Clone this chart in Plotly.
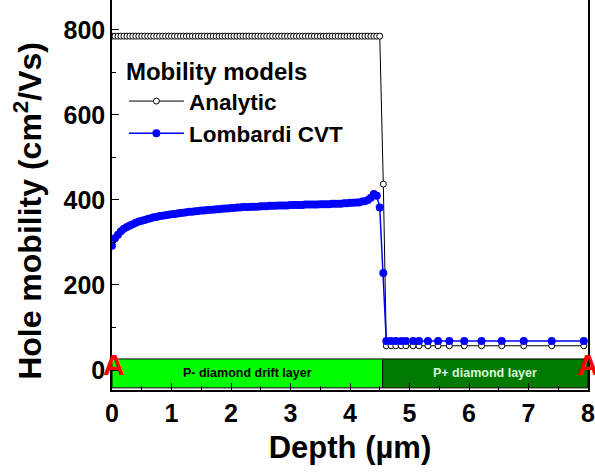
import plotly.graph_objects as go

# ---------------- data ----------------
depth_dense = [0.00, 0.05, 0.10, 0.15, 0.20, 0.25, 0.30, 0.35, 0.40, 0.45,
               0.50, 0.55, 0.60, 0.65, 0.70, 0.75, 0.80, 0.85, 0.90, 0.95,
               1.00, 1.05, 1.10, 1.15, 1.20, 1.25, 1.30, 1.35, 1.40, 1.45,
               1.50, 1.55, 1.60, 1.65, 1.70, 1.75, 1.80, 1.85, 1.90, 1.95,
               2.00, 2.05, 2.10, 2.15, 2.20, 2.25, 2.30, 2.35, 2.40, 2.45,
               2.50, 2.55, 2.60, 2.65, 2.70, 2.75, 2.80, 2.85, 2.90, 2.95,
               3.00, 3.05, 3.10, 3.15, 3.20, 3.25, 3.30, 3.35, 3.40, 3.45,
               3.50, 3.55, 3.60, 3.65, 3.70, 3.75, 3.80, 3.85, 3.90, 3.95,
               4.00, 4.05, 4.10, 4.15, 4.20, 4.25, 4.30, 4.35, 4.40, 4.45,
               4.50]
depth_step = [4.56]
depth_sparse = [4.61, 4.69, 4.77, 4.86, 4.94, 5.06, 5.16, 5.31, 5.48, 5.67,
                5.92, 6.21, 6.55, 6.92, 7.39, 7.93]

analytic_dense = [785] * 91
analytic_step = [437]
analytic_sparse = [57, 57, 57, 57, 57, 57, 57, 57, 57, 57,
                   57, 57, 57, 57, 57, 57]

lombardi_dense = [292, 310, 318, 326, 332, 336, 340, 343, 346, 349,
                  351, 353, 355, 357, 359, 360, 362, 363, 364, 365,
                  366, 367, 368, 369, 370, 371, 372, 372, 373, 374,
                  375, 375, 376, 377, 377, 378, 378, 379, 380, 380,
                  381, 381, 382, 382, 383, 383, 383, 384, 384, 384,
                  385, 385, 385, 386, 386, 386, 387, 387, 387, 387,
                  388, 388, 388, 388, 388, 389, 389, 389, 389, 389,
                  390, 390, 390, 390, 391, 391, 391, 391, 392, 392,
                  393, 393, 394, 394, 396, 397, 400, 405, 414, 410,
                  382]
lombardi_step = [228]
lombardi_sparse = [68, 68, 68, 68, 68, 68, 68, 68, 68, 68,
                   68, 68, 68, 68, 68, 68]

layer_names = ["P- diamond drift layer", "P+ diamond layer"]
layer_start = [0.0, 4.55]
layer_end = [4.55, 8.0]
layer_bottom = -42
layer_top = 26
layer_fill = ["#00ff00", "#007a00"]
layer_text_color = ["#000000", "#d8f5d8"]

marker_labels = ["A", "A"]
marker_x = [0.04, 8]
marker_y = [12, 12]

x_ticks = [0, 1, 2, 3, 4, 5, 6, 7, 8]
y_ticks = [0, 200, 400, 600, 800]

FONT = "Arial, Liberation Sans, sans-serif"

ax_x = depth_dense + depth_step + depth_sparse
an_y = analytic_dense + analytic_step + analytic_sparse
lb_y = lombardi_dense + lombardi_step + lombardi_sparse

fig = go.Figure()

# layer bars
for name, x0, x1, fc, tc in zip(layer_names, layer_start, layer_end, layer_fill, layer_text_color):
    fig.add_shape(type="rect", xref="x", yref="y", x0=x0, x1=x1,
                  y0=layer_bottom, y1=layer_top, fillcolor=fc,
                  line=dict(color="black", width=1), layer="below")
    fig.add_annotation(x=(x0 + x1) / 2, y=(layer_bottom + layer_top) / 2,
                       text=name, showarrow=False,
                       font=dict(family=FONT, size=12.5, color=tc, weight="bold"))

fig.add_trace(go.Scatter(
    x=ax_x, y=an_y, mode="lines+markers", name="Analytic",
    line=dict(color="black", width=1),
    marker=dict(symbol="circle", size=6, color="white",
                line=dict(color="black", width=1)),
))
fig.add_trace(go.Scatter(
    x=ax_x, y=lb_y, mode="lines+markers", name="Lombardi CVT",
    line=dict(color="#0000ff", width=1.5),
    marker=dict(symbol="circle", size=8, color="#0000ff",
                line=dict(width=0)),
))

for lab, mx, my in zip(marker_labels, marker_x, marker_y):
    fig.add_annotation(x=mx, y=my, text=lab, showarrow=False,
                       font=dict(family=FONT, size=30, color="#ff0000", weight="bold"))

# y-axis title as a rotated annotation (placed like the reference)
fig.add_annotation(xref="paper", yref="paper", x=-0.178, y=0.46,
                   xanchor="center", yanchor="middle", textangle=-90,
                   text="Hole mobility (cm<sup>2</sup>/Vs)", showarrow=False,
                   font=dict(family=FONT, size=32, weight="bold", color="black"))

fig.update_layout(
    width=595, height=475,
    margin=dict(l=112, r=7, t=0, b=85),
    paper_bgcolor="white", plot_bgcolor="white",
    font=dict(family=FONT, color="black"),
    showlegend=True,
    legend=dict(
        x=0.025, y=0.875, xanchor="left", yanchor="top",
        bgcolor="rgba(0,0,0,0)",
        title=dict(text="Mobility models",
                   font=dict(family=FONT, size=24, weight="bold")),
        font=dict(family=FONT, size=22.5, weight="bold"),
        itemwidth=55, tracegroupgap=0,
    ),
)

fig.update_xaxes(
    range=[0, 8], tickvals=x_ticks,
    ticks="inside", ticklen=7, tickwidth=1, tickcolor="black",
    minor=dict(ticks="inside", ticklen=4, dtick=0.5, tickcolor="black"),
    showline=True, linecolor="black", linewidth=1.5, mirror=False,
    showgrid=False, zeroline=False, ticklabeloverflow="allow",
    tickfont=dict(family=FONT, size=25, weight="bold"),
    title=dict(text="Depth (\u00b5m)", standoff=11,
               font=dict(family=FONT, size=31, weight="bold")),
)
fig.update_yaxes(
    range=[-47, 870], tickvals=y_ticks,
    ticks="inside", ticklen=7, tickwidth=1, tickcolor="black",
    minor=dict(ticks="inside", ticklen=4, dtick=100, tick0=0, tickcolor="black"),
    showline=True, linecolor="black", linewidth=1.5, mirror=True,
    showgrid=False, zeroline=False,
    tickfont=dict(family=FONT, size=25, weight="bold"),
)

fig.write_html("out.html")
